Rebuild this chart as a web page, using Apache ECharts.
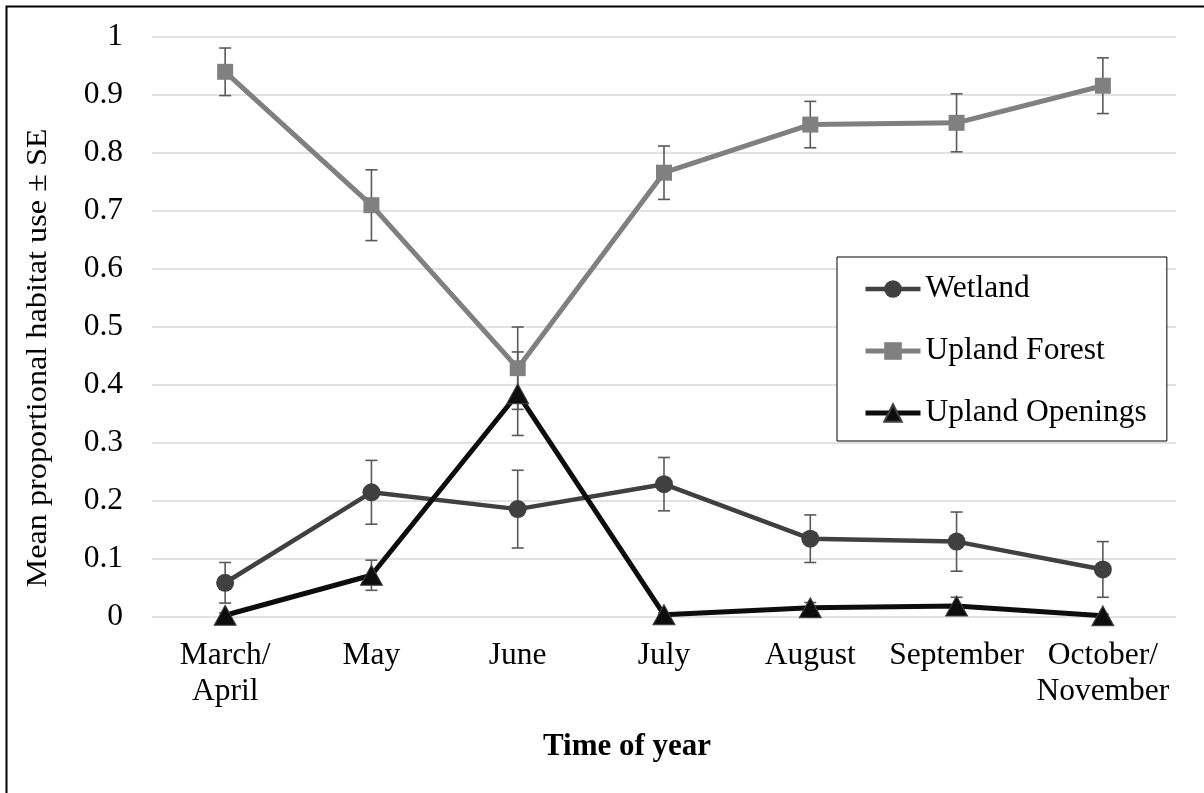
<!DOCTYPE html>
<html>
<head>
<meta charset="utf-8">
<style>
  html, body { margin: 0; padding: 0; background: #ffffff; }
  #chart { width: 1204px; height: 793px; }
</style>
<script src="https://cdn.jsdelivr.net/npm/echarts@6/dist/echarts.min.js"></script>
</head>
<body>
<div id="chart"></div>
<script>
// Months grouped into sampling periods
const categories = ['March/\nApril', 'May', 'June', 'July', 'August', 'September', 'October/\nNovember'];
const yTickLabels = ['0', '0.1', '0.2', '0.3', '0.4', '0.5', '0.6', '0.7', '0.8', '0.9', '1'];

// Mean proportional use of each habitat, with standard errors
const wetland = [0.059, 0.215, 0.186, 0.229, 0.135, 0.130, 0.082];
const wetlandSE = [0.035, 0.055, 0.067, 0.046, 0.041, 0.051, 0.048];
const forest = [0.940, 0.710, 0.429, 0.766, 0.849, 0.852, 0.916];
const forestSE = [0.041, 0.061, 0.071, 0.046, 0.040, 0.050, 0.048];
const openings = [0.003, 0.072, 0.385, 0.004, 0.016, 0.019, 0.002];
const openingsSE = [0.004, 0.026, 0.072, 0.003, 0.009, 0.015, 0.003];

const FONT = '"Liberation Serif", "Times New Roman", serif';
const FONT_SIZE = 31.5;
const Y_TITLE = 'Mean proportional habitat use ± SE';

// The y-axis title is drawn slightly stretched along its reading direction
function titleStretch(text, font, targetLength) {
  const ctx = document.createElement('canvas').getContext('2d');
  ctx.font = font;
  const w = ctx.measureText(text).width;
  return w > 0 ? targetLength / w : 1;
}

function errorData(mean, se) {
  return mean.map((m, i) => [i, m - se[i], m + se[i]]);
}

function renderErrorBar(params, api) {
  const lo = api.coord([api.value(0), api.value(1)]);
  const hi = api.coord([api.value(0), api.value(2)]);
  const cap = 6;
  const style = { stroke: '#595959', lineWidth: 1.6 };
  return {
    type: 'group',
    children: [
      { type: 'line', shape: { x1: lo[0], y1: lo[1], x2: hi[0], y2: hi[1] }, style },
      { type: 'line', shape: { x1: lo[0] - cap, y1: lo[1], x2: lo[0] + cap, y2: lo[1] }, style },
      { type: 'line', shape: { x1: hi[0] - cap, y1: hi[1], x2: hi[0] + cap, y2: hi[1] }, style }
    ]
  };
}

function errorSeries(name, mean, se) {
  return {
    name: name,
    type: 'custom',
    renderItem: renderErrorBar,
    data: errorData(mean, se),
    encode: { x: 0, y: [1, 2] },
    z: 1,
    silent: true
  };
}

const chart = echarts.init(document.getElementById('chart'), null, { renderer: 'canvas' });
const yTitleFont = '30px ' + FONT;
const yTitleScale = titleStretch(Y_TITLE, yTitleFont, 459);

chart.setOption({
  animation: false,
  backgroundColor: '#ffffff',
  textStyle: { fontFamily: FONT, color: '#000000' },
  grid: { left: 152, right: 28, top: 37, bottom: 176, containLabel: false },
  xAxis: {
    type: 'category',
    data: categories,
    boundaryGap: true,
    axisLine: { show: false },
    axisTick: { show: false },
    axisLabel: {
      fontFamily: FONT, fontSize: FONT_SIZE, color: '#000000',
      margin: 21, lineHeight: 36, interval: 0
    }
  },
  yAxis: {
    type: 'value',
    min: 0, max: 1, interval: 0.1,
    axisLine: { show: false },
    axisTick: { show: false },
    axisLabel: {
      fontFamily: FONT, fontSize: FONT_SIZE, color: '#000000', margin: 29,
      formatter: (v) => yTickLabels[Math.round(v * 10)]
    },
    splitLine: { lineStyle: { color: '#d9d9d9', width: 1.5 } }
  },
  legend: {
    data: [
      { name: 'Wetland', lineStyle: { width: 4.5 } },
      { name: 'Upland Forest', lineStyle: { width: 5 } },
      { name: 'Upland Openings', lineStyle: { width: 5 } }
    ],
    orient: 'vertical',
    left: 837, top: 257,
    padding: [16, 20, 12, 26],
    itemGap: 30,
    itemWidth: 55,
    itemHeight: 22,
    borderColor: '#000000',
    borderWidth: 1,
    backgroundColor: '#ffffff',
    textStyle: { fontFamily: FONT, fontSize: FONT_SIZE, color: '#000000', padding: [0, 0, 0, 0] }
  },
  graphic: [
    {
      type: 'rect', left: 4, top: 4, silent: true,
      shape: { width: 1250, height: 850 },
      style: { fill: 'none', stroke: '#000000', lineWidth: 2 }
    },
    {
      type: 'text', x: 38, y: 358, rotation: Math.PI / 2, scaleX: yTitleScale, silent: true,
      style: {
        text: Y_TITLE,
        font: yTitleFont, fill: '#000000',
        align: 'center', verticalAlign: 'middle'
      }
    },
    {
      type: 'text', x: 627, y: 747, silent: true,
      style: {
        text: 'Time of year',
        font: 'bold 31px ' + FONT, fill: '#000000',
        align: 'center', verticalAlign: 'middle'
      }
    }
  ],
  series: [
    errorSeries('Wetland SE', wetland, wetlandSE),
    errorSeries('Upland Forest SE', forest, forestSE),
    errorSeries('Upland Openings SE', openings, openingsSE),
    {
      name: 'Wetland', type: 'line', data: wetland, z: 3,
      symbol: 'circle', symbolSize: 18,
      lineStyle: { color: '#404040', width: 4.5 },
      itemStyle: { color: '#404040' }
    },
    {
      name: 'Upland Forest', type: 'line', data: forest, z: 4,
      symbol: 'rect', symbolSize: 16,
      lineStyle: { color: '#808080', width: 5 },
      itemStyle: { color: '#808080' }
    },
    {
      name: 'Upland Openings', type: 'line', data: openings, z: 5,
      symbol: 'triangle', symbolSize: [22, 20],
      lineStyle: { color: '#0d0d0d', width: 5 },
      itemStyle: { color: '#0d0d0d', borderColor: '#404040', borderWidth: 1 }
    }
  ]
});
</script>
</body>
</html>
